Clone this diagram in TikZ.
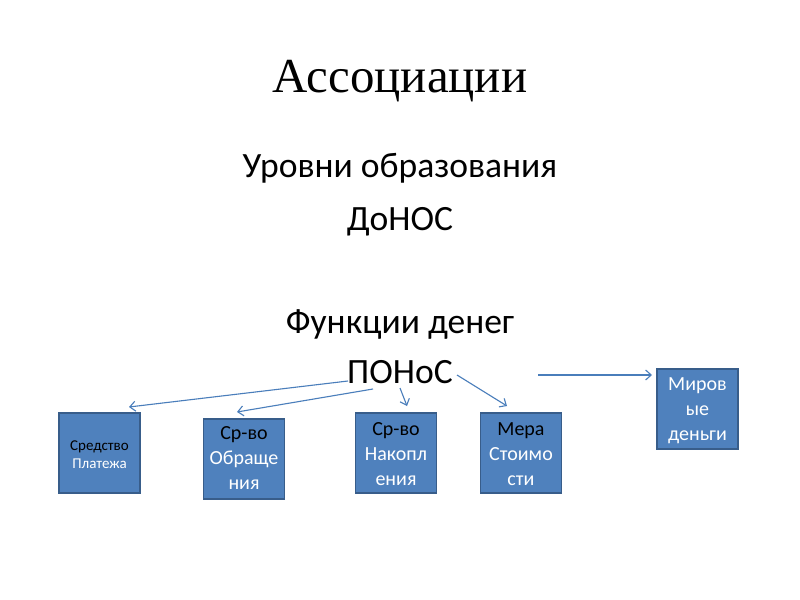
\documentclass[tikz,border=0pt]{standalone}
\usepackage{fontspec}
\usetikzlibrary{arrows.meta}
\setmainfont{Carlito}
\newfontfamily\titlefont{Liberation Serif}
\definecolor{boxfill}{HTML}{4F81BD}
\definecolor{boxline}{HTML}{385D8A}
\definecolor{arrowc}{HTML}{4A7EBB}
\begin{document}
\begin{tikzpicture}[x=0.9pt,y=-0.9pt,
  fbox/.style={draw=boxline,line width=1.6pt,fill=boxfill,minimum width=81*0.9pt,minimum height=80*0.9pt,inner sep=0pt},
  btext/.style={anchor=base,align=center,inner sep=0pt,font=\fontsize{18}{22.5}\selectfont},
  stext/.style={btext,font=\fontsize{13.5}{16.2}\selectfont},
  body/.style={anchor=base,font=\fontsize{32}{38}\selectfont},
  arr/.style={draw=arrowc,line width=1pt,-{Straight Barb[length=5pt,width=9pt]}}]
\useasboundingbox (0,0) rectangle (800,600);
\fill[white] (0,0) rectangle (800,600);
\node[anchor=base,font=\titlefont\fontsize{44}{50}\selectfont] (title) at (400,92) {Ассоциации};
\node[body] (l1) at (400,177) {Уровни образования};
\node[body] (l2) at (400,230) {ДоНОС};
\node[body] (l3) at (400,333) {Функции денег};
\node[body] (l4) at (400,383) {ПОНоС};
\node[fbox] (b1) at (99.5,453) {};
\node[fbox] (b2) at (244,459) {};
\node[fbox] (b3) at (396,453) {};
\node[fbox] (b4) at (521,453) {};
\node[fbox] (b5) at (697.5,409) {};
\node[stext] (t1) at (99.5,468) {Средство\\\textcolor{white}{Платежа}};
\node[btext] (t2) at (244,489) {Ср-во\\\textcolor{white}{Обраще}\\\textcolor{white}{ния}};
\node[btext] (t3) at (396,485) {Ср-во\\\textcolor{white}{Накопл}\\\textcolor{white}{ения}};
\node[btext] (t4) at (521,485) {Мера\\\textcolor{white}{Стоимо}\\\textcolor{white}{сти}};
\node[btext,text=white] (t5) at (697.5,440) {Миров\\ые\\деньги};
\coordinate (s1) at (348,381);
\coordinate (e1) at (129,407);
\coordinate (s2) at (373,389);
\coordinate (e2) at (237,412);
\coordinate (s3) at (400,388);
\coordinate (e3) at (407,406);
\coordinate (s4) at (457,375);
\coordinate (e4) at (507,406);
\coordinate (s5) at (538,375);
\coordinate (e5) at (652,375);
\draw[arr] (s1) -- (e1);
\draw[arr] (s2) -- (e2);
\draw[arr] (s3) -- (e3);
\draw[arr] (s4) -- (e4);
\draw[arr] (s5) -- (e5);
\end{tikzpicture}
\end{document}
